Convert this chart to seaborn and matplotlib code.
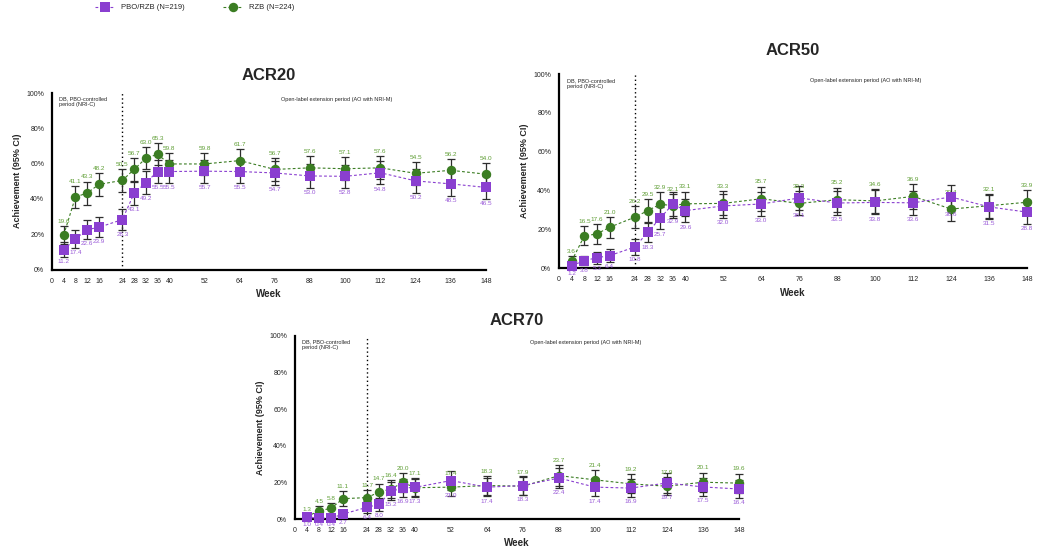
import matplotlib
matplotlib.use("Agg")
import matplotlib.pyplot as plt
from matplotlib.lines import Line2D
import seaborn as sns
import pandas as pd
import numpy as np

# weeks shared by all three panels
weeks = [4, 8, 12, 16, 24, 28, 32, 36, 40, 52, 64, 76, 88, 100, 112, 124, 136, 148]
tick_weeks = [0] + weeks

# ACR20 (% achievement)
acr20_pbo = [11.2, 17.4, 22.6, 23.9, 28.3, 43.1, 49.2, 55.5, 55.5, 55.7, 55.5, 54.7, 53.0, 52.8, 54.8, 50.2, 48.5, 46.5]
acr20_pbo_ci = [4.2, 5.0, 5.5, 5.6, 6.0, 6.6, 6.6, 6.6, 6.6, 6.6, 6.6, 6.6, 6.6, 6.6, 6.6, 6.6, 6.6, 6.6]
acr20_rzb = [19.6, 41.1, 43.3, 48.2, 50.5, 56.7, 63.0, 65.3, 59.8, 59.8, 61.7, 56.7, 57.6, 57.1, 57.6, 54.5, 56.2, 54.0]
acr20_rzb_ci = [5.2, 6.4, 6.5, 6.5, 6.5, 6.5, 6.3, 6.2, 6.4, 6.4, 6.4, 6.5, 6.5, 6.5, 6.5, 6.5, 6.5, 6.5]

# ACR50
acr50_pbo = [1.2, 3.8, 5.3, 6.4, 10.8, 18.3, 25.7, 32.9, 29.6, 32.0, 33.0, 36.1, 33.5, 33.8, 33.6, 36.6, 31.5, 28.8]
acr50_pbo_ci = [1.5, 2.5, 3.0, 3.2, 4.1, 5.1, 5.8, 6.2, 6.0, 6.2, 6.2, 6.3, 6.2, 6.2, 6.2, 6.3, 6.1, 6.0]
acr50_rzb = [3.6, 16.5, 17.6, 21.0, 26.2, 29.5, 32.9, 32.1, 33.1, 33.3, 35.7, 33.3, 35.2, 34.6, 36.9, 30.4, 32.1, 33.9]
acr50_rzb_ci = [2.4, 4.9, 5.0, 5.3, 5.8, 6.0, 6.2, 6.1, 6.2, 6.2, 6.3, 6.2, 6.2, 6.2, 6.3, 6.0, 6.1, 6.2]

# ACR70
acr70_pbo = [1.0, 0.4, 0.4, 2.7, 6.4, 8.0, 15.2, 16.9, 17.3, 21.0, 17.4, 18.3, 22.4, 17.4, 16.9, 19.7, 17.5, 16.4]
acr70_pbo_ci = [1.3, 0.9, 0.9, 2.1, 3.2, 3.6, 4.8, 5.0, 5.0, 5.4, 5.0, 5.1, 5.5, 5.0, 5.0, 5.3, 5.0, 4.9]
acr70_rzb = [1.3, 4.5, 5.8, 11.1, 11.7, 14.7, 16.4, 20.0, 17.1, 17.4, 18.3, 17.9, 23.7, 21.4, 19.2, 17.9, 20.1, 19.6]
acr70_rzb_ci = [1.5, 2.7, 3.1, 4.1, 4.2, 4.6, 4.9, 5.3, 5.0, 5.0, 5.1, 5.0, 5.6, 5.4, 5.2, 5.0, 5.3, 5.2]

groups = ["PBO/RZB (N=219)", "RZB (N=224)"]
colors = {"PBO/RZB (N=219)": "#8a3fd0", "RZB (N=224)": "#3b7d23"}
label_colors = {"PBO/RZB (N=219)": "#9a5ad8", "RZB (N=224)": "#5f9e35"}
markers = {"PBO/RZB (N=219)": "s", "RZB (N=224)": "o"}
msize = {"PBO/RZB (N=219)": 7.5, "RZB (N=224)": 6.8}

panels = [
    ("ACR20", acr20_pbo, acr20_pbo_ci, acr20_rzb, acr20_rzb_ci, [52, 93, 486, 269.5], 15),
    ("ACR50", acr50_pbo, acr50_pbo_ci, acr50_rzb, acr50_rzb_ci, [559, 74, 1027, 268], 20),
    ("ACR70", acr70_pbo, acr70_pbo_ci, acr70_rzb, acr70_rzb_ci, [295, 336, 739, 519], 14),
]

sns.set_style("white")
plt.rcParams["font.family"] = ["Liberation Sans", "DejaVu Sans"]

W, H = 1037, 560
fig = plt.figure(figsize=(W / 100, H / 100), dpi=100)

for title, pbo, pbo_ci, rzb, rzb_ci, box, title_pad in panels:
    x0, y0, x1, y1 = box
    ax = fig.add_axes([x0 / W, 1 - y1 / H, (x1 - x0) / W, (y1 - y0) / H])

    df = pd.DataFrame({
        "week": weeks * 2,
        "value": rzb + pbo,
        "ci": rzb_ci + pbo_ci,
        "group": [groups[1]] * len(weeks) + [groups[0]] * len(weeks),
    })

    # RZB first, PBO/RZB drawn on top
    for g in [groups[1], groups[0]]:
        sub = df[df["group"] == g]
        ax.errorbar(sub["week"], sub["value"], yerr=sub["ci"], fmt="none",
                    ecolor="#2e2e2e", elinewidth=0.9, capsize=2.6, capthick=0.9,
                    zorder=2, clip_on=False)
        sns.lineplot(data=sub, x="week", y="value", color=colors[g],
                     marker=markers[g], markersize=msize[g],
                     markeredgewidth=0, linestyle=(0, (2.5, 2)), linewidth=0.8,
                     ax=ax, zorder=3, clip_on=False, legend=False)
        for wk, v, c in zip(sub["week"], sub["value"], sub["ci"]):
            if g == groups[1]:
                ax.text(wk, v + c + 1.2, f"{v:.1f}", ha="center", va="bottom",
                        fontsize=4.6, color=label_colors[g])
            else:
                ax.text(wk, v - c - 1.2, f"{v:.1f}", ha="center", va="top",
                        fontsize=4.6, color=label_colors[g])

    ax.axvline(24, ymin=0, ymax=1, color="black", linestyle=(0, (1, 2)), linewidth=1.0, zorder=1)
    ax.text(2.5, 98, "DB, PBO-controlled\nperiod (NRI-C)", fontsize=4.0, va="top", ha="left")
    ax.text(97, 98, "Open-label extension period (AO with NRI-M)", fontsize=4.0, va="top", ha="center")

    ax.set_xlim(0, 148)
    ax.set_ylim(0, 100)
    ax.set_xticks(tick_weeks)
    ax.set_xticklabels([str(t) for t in tick_weeks], fontsize=5)
    ax.set_yticks([0, 20, 40, 60, 80, 100])
    ax.set_yticklabels([f"{t}%" for t in [0, 20, 40, 60, 80, 100]], fontsize=5)
    ax.tick_params(axis="x", length=4, width=1.5, pad=2)
    ax.tick_params(axis="y", length=3.5, width=1.2, pad=2)
    sns.despine(ax=ax)
    for side in ["left", "bottom"]:
        ax.spines[side].set_linewidth(1.6)
        ax.spines[side].set_color("black")
    ax.set_xlabel("Week", fontsize=7, fontweight="bold", labelpad=3)
    ax.set_ylabel("Achievement (95% CI)", fontsize=6.5, fontweight="bold", labelpad=3)
    ax.set_title(title, fontsize=12, fontweight="bold", pad=title_pad - 6)

handles = [
    Line2D([0], [0], color=colors[g], marker=markers[g], markersize=msize[g], markeredgewidth=0,
           linestyle=(0, (2.5, 2)), linewidth=0.8)
    for g in groups
]
fig.legend(handles, groups, loc="upper left", bbox_to_anchor=(0.085, 1.005), ncol=2,
           frameon=False, fontsize=5.5, handlelength=2.6, columnspacing=5)

fig.savefig("out.png", dpi=100)
